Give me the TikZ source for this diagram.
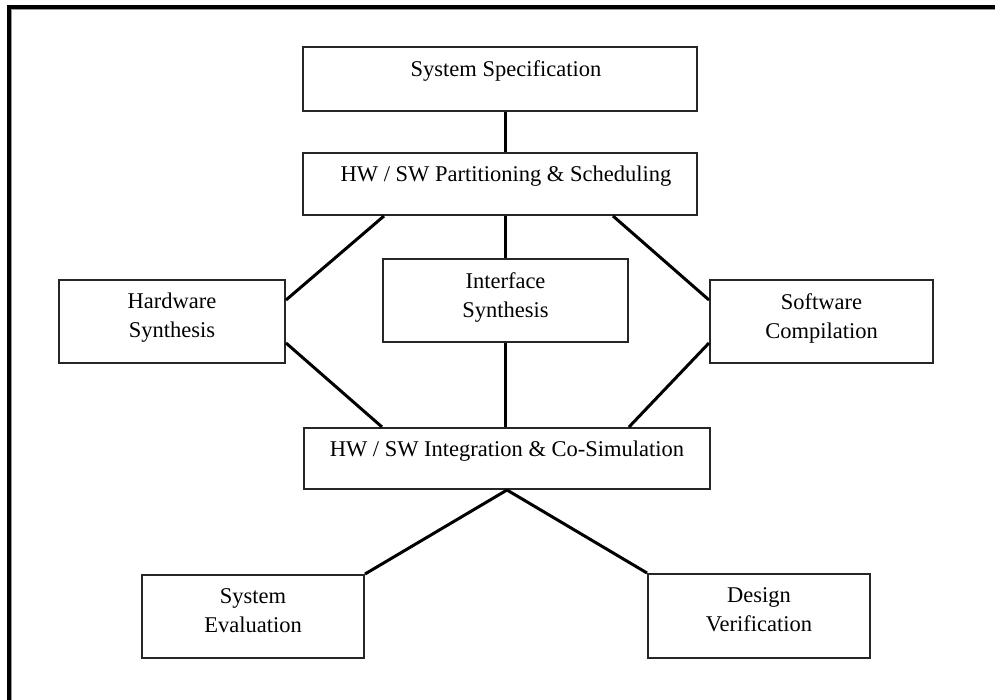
\documentclass[tikz,border=0pt]{standalone}
\usepackage{fontspec}
\setmainfont{Liberation Serif}
\begin{document}
\begin{tikzpicture}[x=1pt,y=-1pt,
  stagebox/.style={draw=black!85, line width=2pt, inner sep=0pt, fill=white},
  stagetext/.style={anchor=north, inner sep=0pt, align=center,
    font=\fontsize{22.5}{29}\selectfont, yshift=-14pt},
  link/.style={line width=3pt, black}]
\useasboundingbox (0,0) rectangle (995,700);
% outer frame: top and left edges only
\draw[line width=4pt, miter limit=10] (9,700) -- (9,7) -- (995,7);
\draw[line width=1pt, black!40] (11.5,700) -- (11.5,9.5) -- (995,9.5);

% process stages
\node[stagebox, minimum width=394pt, minimum height=64pt] (spec)   at (500,79)    {};
\node[stagebox, minimum width=394pt, minimum height=62pt] (part)   at (500,184)   {};
\node[stagebox, minimum width=226pt, minimum height=83pt] (hw)     at (172,321.5) {};
\node[stagebox, minimum width=245pt, minimum height=83pt] (iface)  at (505.5,300.5) {};
\node[stagebox, minimum width=223pt, minimum height=83pt] (sw)     at (821.5,321.5) {};
\node[stagebox, minimum width=406pt, minimum height=61pt] (integ)  at (507,458.5) {};
\node[stagebox, minimum width=222pt, minimum height=83pt] (eval)   at (253,616.5) {};
\node[stagebox, minimum width=222pt, minimum height=84pt] (verif)  at (759,616)   {};

% stage captions
\node[stagetext] (spec-t)  at ([xshift=6pt]spec.north)  {System Specification};
\node[stagetext] (part-t)  at ([xshift=6pt]part.north)  {HW / SW Partitioning \& Scheduling};
\node[stagetext] (hw-t)    at (hw.north)    {Hardware\\Synthesis};
\node[stagetext] (iface-t) at (iface.north) {Interface\\Synthesis};
\node[stagetext] (sw-t)    at (sw.north)    {Software\\Compilation};
\node[stagetext] (integ-t) at (integ.north) {HW / SW Integration \& Co-Simulation};
\node[stagetext] (eval-t)  at (eval.north)  {System\\Evaluation};
\node[stagetext] (verif-t) at (verif.north) {Design\\Verification};

% connectors
\draw[link] (iface.north |- spec.south) -- (iface.north |- part.north);
\draw[link] (iface.north |- part.south) -- (iface.north);
\draw[link] ([xshift=82pt]part.south west) -- ([yshift=21.5pt]hw.east);
\draw[link] ([xshift=-85pt]part.south east) -- ([yshift=21.5pt]sw.west);
\draw[link] (iface.south) -- (iface.south |- integ.north);
\draw[link] ([yshift=-21.5pt]hw.east) -- ([xshift=79pt]integ.north west);
\draw[link] ([yshift=-21.5pt]sw.west) -- ([xshift=-82pt]integ.north east);
\draw[link] (integ.south) -- (eval.north east);
\draw[link] (integ.south) -- (verif.north west);
\end{tikzpicture}
\end{document}
